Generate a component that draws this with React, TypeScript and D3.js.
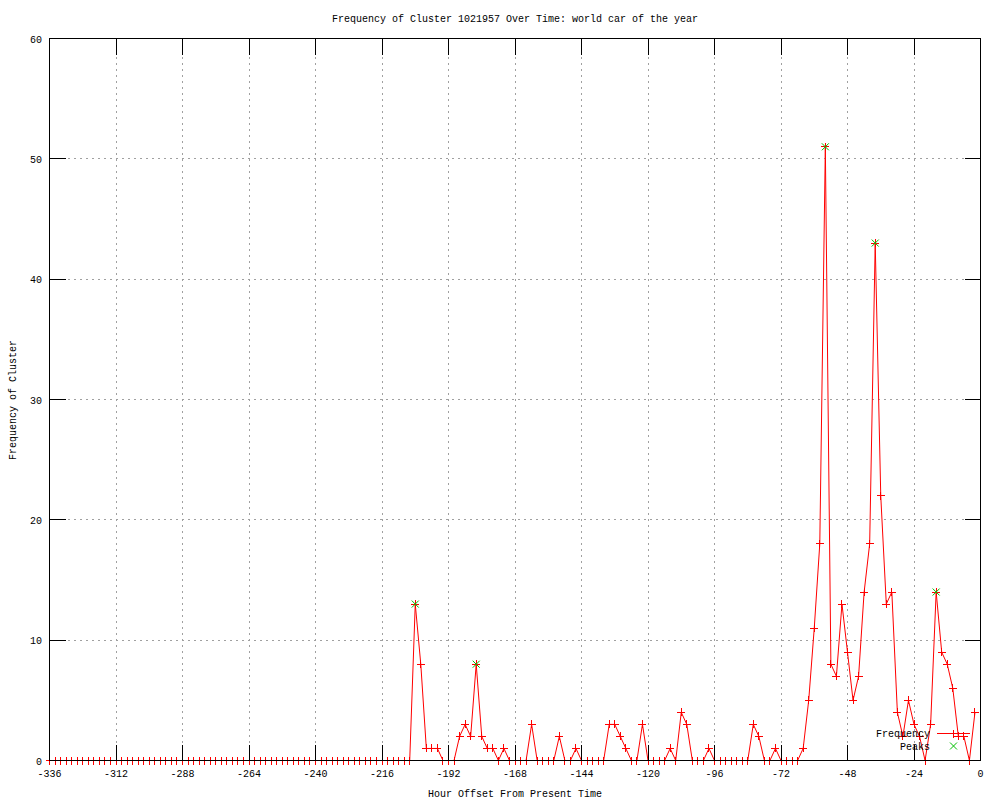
import * as d3 from "d3";

// hourly offsets, one sample every 2 hours
const hours: number[] = d3.range(-336, 0, 2);

// cluster frequency per sample (-336 .. -2)
const frequency: number[] = [
  0, 0, 0, 0, 0, 0, 0, 0, 0, 0, 0, 0, 0, 0, 0, 0, 0, 0, 0, 0, 0, 0,
  0, 0, 0, 0, 0, 0, 0, 0, 0, 0, 0, 0, 0, 0, 0, 0, 0, 0, 0, 0, 0, 0,
  0, 0, 0, 0, 0, 0, 0, 0, 0, 0, 0, 0, 0, 0, 0, 0, 0, 0, 0, 0, 0, 0,
  13, 8, 1, 1, 1, 0, 0, 0, 2, 3,
  2, 8, 2, 1, 1, 0, 1, 0, 0, 0,
  0, 3, 0, 0, 0, 0, 2, 0, 0, 1,
  0, 0, 0, 0, 0, 3, 3, 2, 1, 0,
  0, 3, 0, 0, 0, 0, 1, 0, 4, 3,
  0, 0, 0, 1, 0, 0, 0, 0, 0, 0,
  0, 3, 2, 0, 0, 1, 0, 0, 0, 0,
  1, 5, 11, 18, 51, 8, 7, 13, 9, 5,
  7, 14, 18, 43, 22, 13, 14, 4, 2, 5,
  3, 2, 0, 3, 14, 9, 8, 6, 2, 2,
  0, 4,
];

const peakHours: number[] = [-204, -182, -56, -38, -16];
const xTicks: number[] = d3.range(-336, 1, 24);
const yTicks: number[] = [0, 10, 20, 30, 40, 50, 60];

const title = "Frequency of Cluster 1021957 Over Time: world car of the year";
const xLabel = "Hour Offset From Present Time";
const yLabel = "Frequency of Cluster";

const W = 1000;
const H = 800;
const left = 49.5;
const right = 980.5;
const top = 38.5;
const bottom = 760.5;
const tickLen = 16;
const font = "'Liberation Mono', 'DejaVu Sans Mono', monospace";

const Plus = ({ x, y }: { x: number; y: number }) => (
  <path d={`M${x - 4},${y}H${x + 4}M${x},${y - 4}V${y + 4}`} stroke="#ff0000" strokeWidth={1} fill="none" />
);

const Cross = ({ x, y }: { x: number; y: number }) => (
  <path
    d={`M${x - 3.5},${y - 3.5}L${x + 3.5},${y + 3.5}M${x - 3.5},${y + 3.5}L${x + 3.5},${y - 3.5}`}
    stroke="#00c000"
    strokeWidth={1}
    fill="none"
  />
);

const App = () => {
  const x = d3.scaleLinear().domain([-336, 0]).range([left, right]);
  const y = d3.scaleLinear().domain([0, 60]).range([bottom, top]);
  const points = hours.map((h, i) => [h, frequency[i]] as [number, number]);
  const line = d3.line<[number, number]>().x((d) => x(d[0])).y((d) => y(d[1]));
  const peaks = peakHours.map((h) => [h, frequency[hours.indexOf(h)]] as [number, number]);

  return (
    <svg
      width={W}
      height={H}
      style={{ position: "absolute", left: 0, top: 0, background: "#fff", display: "block" }}
      fontFamily={font}
      fontSize={10}
    >
      <rect width={W} height={H} fill="#fff" />
      <text x={515} y={22} textAnchor="middle">{title}</text>

      {/* grid */}
      <g stroke="#a0a0a0" strokeDasharray="2,4" shapeRendering="crispEdges">
        {xTicks.slice(1, -1).map((t) => (
          <line key={"gx" + t} x1={x(t)} x2={x(t)} y1={top} y2={bottom} />
        ))}
        {yTicks.slice(1, -1).map((t) => (
          <line key={"gy" + t} x1={left} x2={right} y1={y(t)} y2={y(t)} />
        ))}
      </g>

      {/* data */}
      <path d={line(points) ?? ""} fill="none" stroke="#ff0000" strokeWidth={1} />
      <g shapeRendering="crispEdges">
        {points.map((d, i) => (
          <Plus key={i} x={x(d[0])} y={y(d[1])} />
        ))}
      </g>
      {peaks.map((d, i) => (
        <Cross key={i} x={x(d[0])} y={y(d[1])} />
      ))}

      {/* border and ticks */}
      <g stroke="#000" strokeWidth={1} fill="none" shapeRendering="crispEdges">
        <rect x={left} y={top} width={right - left} height={bottom - top} />
        {xTicks.map((t) => (
          <g key={"tx" + t}>
            <line x1={x(t)} x2={x(t)} y1={bottom} y2={bottom - tickLen} />
            <line x1={x(t)} x2={x(t)} y1={top} y2={top + tickLen} />
          </g>
        ))}
        {yTicks.map((t) => (
          <g key={"ty" + t}>
            <line x1={left} x2={left + tickLen} y1={y(t)} y2={y(t)} />
            <line x1={right} x2={right - tickLen} y1={y(t)} y2={y(t)} />
          </g>
        ))}
      </g>

      {/* tick labels */}
      {xTicks.map((t) => (
        <text key={"lx" + t} x={x(t)} y={777} textAnchor="middle">{String(t)}</text>
      ))}
      {yTicks.map((t) => (
        <text key={"ly" + t} x={42} y={y(t) + 4} textAnchor="end">{t}</text>
      ))}

      <text x={515} y={797} textAnchor="middle">{xLabel}</text>
      <text transform={`translate(16,400) rotate(-90)`} textAnchor="middle">{yLabel}</text>

      {/* legend */}
      <text x={930} y={737} textAnchor="end">Frequency</text>
      <line x1={937} x2={970} y1={733.5} y2={733.5} stroke="#ff0000" shapeRendering="crispEdges" />
      <g shapeRendering="crispEdges">
        <Plus x={953.5} y={733.5} />
      </g>
      <text x={930} y={750} textAnchor="end">Peaks</text>
      <Cross x={953.5} y={746} />
    </svg>
  );
};

export default App;
